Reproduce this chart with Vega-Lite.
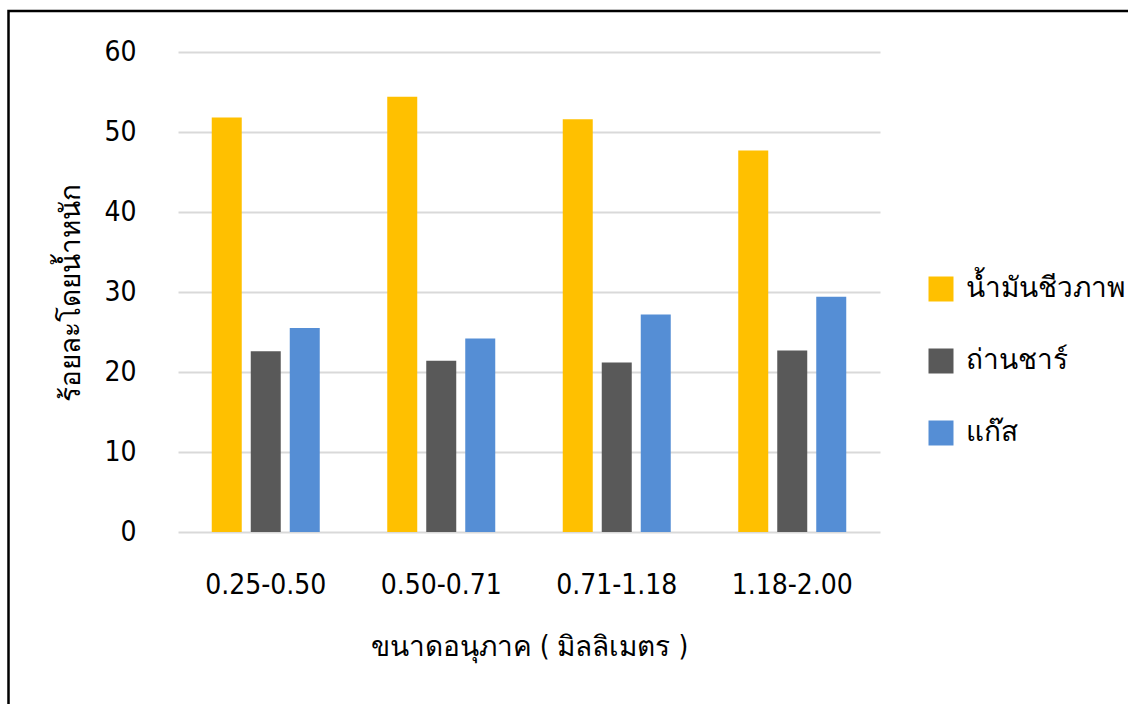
{
  "$schema": "https://vega.github.io/schema/vega-lite/v6.json",
  "width": 702,
  "height": 480,
  "autosize": {"type": "none"},
  "padding": {"left": 178, "top": 52, "right": 248, "bottom": 172},
  "background": "white",
  "datasets": {
    "yields": [
      {"size": "0.25-0.50", "product": "น้ำมันชีวภาพ", "percent": 51.8},
      {"size": "0.25-0.50", "product": "ถ่านชาร์", "percent": 22.6},
      {"size": "0.25-0.50", "product": "แก๊ส", "percent": 25.5},
      {"size": "0.50-0.71", "product": "น้ำมันชีวภาพ", "percent": 54.4},
      {"size": "0.50-0.71", "product": "ถ่านชาร์", "percent": 21.4},
      {"size": "0.50-0.71", "product": "แก๊ส", "percent": 24.2},
      {"size": "0.71-1.18", "product": "น้ำมันชีวภาพ", "percent": 51.6},
      {"size": "0.71-1.18", "product": "ถ่านชาร์", "percent": 21.2},
      {"size": "0.71-1.18", "product": "แก๊ส", "percent": 27.2},
      {"size": "1.18-2.00", "product": "น้ำมันชีวภาพ", "percent": 47.7},
      {"size": "1.18-2.00", "product": "ถ่านชาร์", "percent": 22.7},
      {"size": "1.18-2.00", "product": "แก๊ส", "percent": 29.4}
    ]
  },
  "layer": [
    {
      "description": "Outer frame around the chart",
      "data": {"values": [{}]},
      "mark": {"type": "rect", "fill": null, "stroke": "#000000", "strokeWidth": 2.5, "clip": false},
      "encoding": {
        "x": {"value": -169.5},
        "x2": {"value": 970},
        "y": {"value": -41},
        "y2": {"value": 670}
      }
    },
    {
      "data": {"name": "yields"},
      "mark": {"type": "bar"},
      "encoding": {
        "x": {
          "field": "size",
          "type": "nominal",
          "sort": ["0.25-0.50", "0.50-0.71", "0.71-1.18", "1.18-2.00"],
          "scale": {"paddingInner": 0.3846, "paddingOuter": 0.1923},
          "axis": {
            "title": "ขนาดอนุภาค ( มิลลิเมตร )",
            "labelAngle": 0,
            "domain": false,
            "ticks": false,
            "labelPadding": 39,
            "titlePadding": 34
          }
        },
        "xOffset": {
          "field": "product",
          "type": "nominal",
          "sort": ["น้ำมันชีวภาพ", "ถ่านชาร์", "แก๊ส"],
          "scale": {"paddingInner": 0.2308, "paddingOuter": 0}
        },
        "y": {
          "field": "percent",
          "type": "quantitative",
          "scale": {"domain": [0, 60], "nice": false},
          "axis": {
            "title": "ร้อยละโดยน้ำหนัก",
            "values": [0, 10, 20, 30, 40, 50, 60],
            "domain": false,
            "ticks": false,
            "grid": true,
            "gridColor": "#D9D9D9",
            "gridWidth": 2,
            "labelPadding": 42,
            "titlePadding": 18
          }
        },
        "color": {
          "field": "product",
          "type": "nominal",
          "sort": ["น้ำมันชีวภาพ", "ถ่านชาร์", "แก๊ส"],
          "scale": {
            "domain": ["น้ำมันชีวภาพ", "ถ่านชาร์", "แก๊ส"],
            "range": ["#FFC000", "#595959", "#558ED5"]
          },
          "legend": {
            "title": null,
            "orient": "none",
            "legendX": 749,
            "legendY": 223,
            "padding": 0,
            "symbolType": "square",
            "symbolSize": 625,
            "symbolStrokeWidth": 0,
            "symbolOpacity": 1,
            "labelOffset": 11,
            "rowPadding": 44,
            "labelFontSize": 28,
            "labelFontWeight": 300,
            "labelColor": "#000000",
            "labelFont": "Liberation Sans Narrow, DejaVu Sans Condensed, sans-serif",
            "labelLimit": 300
          }
        }
      }
    }
  ],
  "config": {
    "view": {"stroke": null},
    "font": "Liberation Sans Narrow, DejaVu Sans Condensed, sans-serif",
    "axis": {
      "labelFont": "Liberation Sans Narrow, DejaVu Sans Condensed, sans-serif",
      "titleFont": "Liberation Sans Narrow, DejaVu Sans Condensed, sans-serif",
      "labelFontSize": 28,
      "titleFontSize": 28,
      "labelFontWeight": 300,
      "titleFontWeight": 300,
      "labelColor": "#000000",
      "titleColor": "#000000"
    }
  }
}
